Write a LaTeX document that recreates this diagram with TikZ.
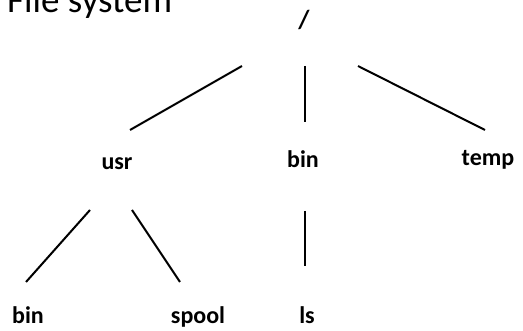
\documentclass[tikz,border=0pt]{standalone}
\usepackage{fontspec}
\setmainfont{Carlito}
\begin{document}
\begin{tikzpicture}[x=1pt,y=-1pt,
  lbl/.style={font=\fontsize{24}{26}\selectfont\bfseries, anchor=base, inner sep=0pt},
  edge/.style={line width=2pt}]
\useasboundingbox (0,0) rectangle (523,331);
\node[anchor=base west, inner sep=0pt, font=\fontsize{37}{40}\selectfont] (title) at (7,13) {File system};
\node[lbl, font=\fontsize{26}{28}\selectfont\bfseries] (root) at (304,29) {/};
\node[lbl] (usr) at (117,170) {usr};
\node[lbl] (bin) at (303,168) {bin};
\node[lbl] (temp) at (488,166) {temp};
\node[lbl] (ubin) at (28,324) {bin};
\node[lbl] (spool) at (198,324) {spool};
\node[lbl] (ls) at (307,324) {ls};
\coordinate (r1) at (242,66); \coordinate (u1) at (130,130);
\coordinate (r2) at (305,66); \coordinate (b1) at (305,122);
\coordinate (r3) at (358,66); \coordinate (t1) at (485,130);
\coordinate (u2) at (90,210); \coordinate (ub1) at (26,282);
\coordinate (u3) at (132,210); \coordinate (sp1) at (180,282);
\coordinate (b2) at (305,211); \coordinate (ls1) at (305,266);
\draw[edge] (r1) -- (u1);
\draw[edge] (r2) -- (b1);
\draw[edge] (r3) -- (t1);
\draw[edge] (u2) -- (ub1);
\draw[edge] (u3) -- (sp1);
\draw[edge] (b2) -- (ls1);
\end{tikzpicture}
\end{document}
